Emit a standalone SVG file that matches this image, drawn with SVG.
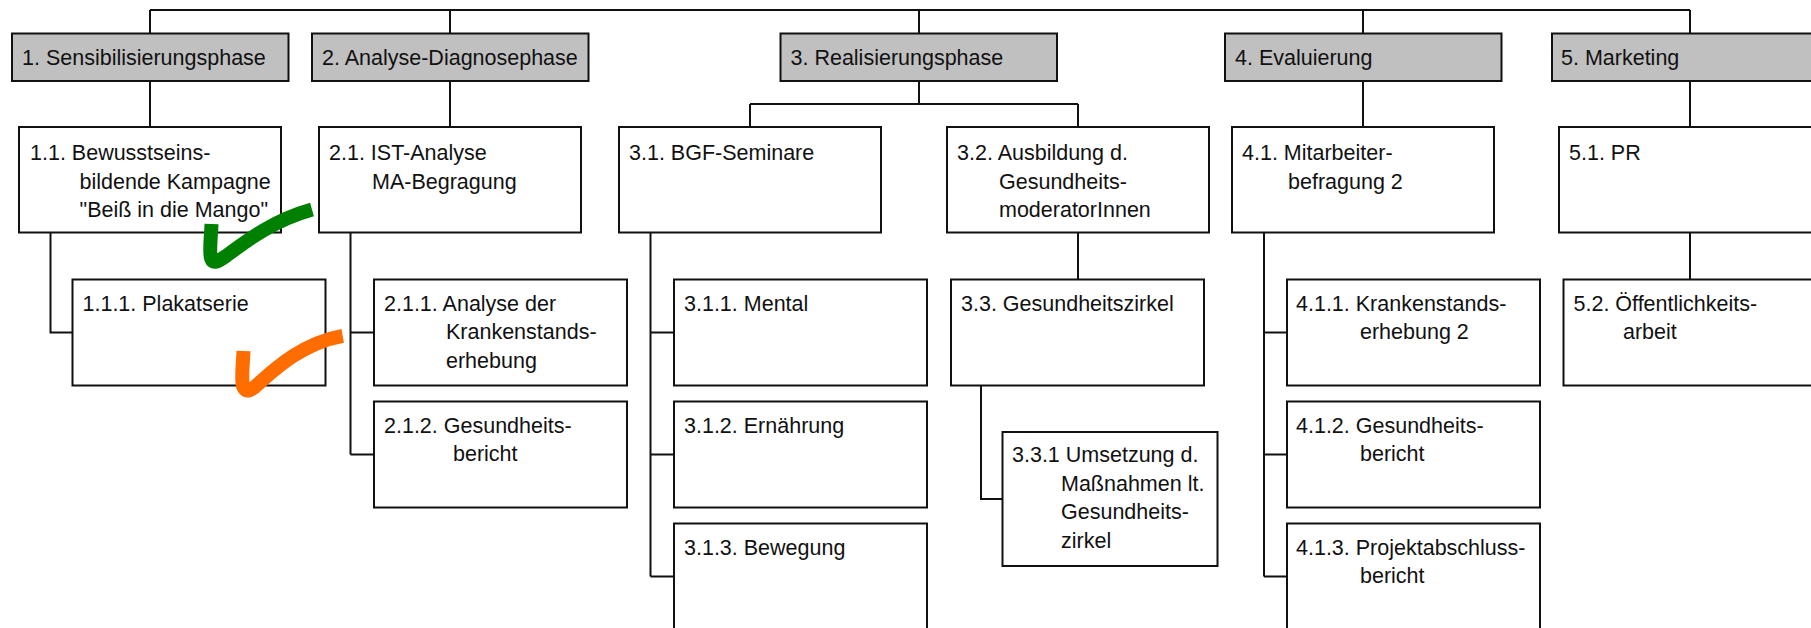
<svg xmlns="http://www.w3.org/2000/svg" width="1811" height="628" viewBox="0 0 1811 628">
<style>
  .top { fill: #c0c0c0; stroke: #111; stroke-width: 2; }
  .box { fill: #fff; stroke: #111; stroke-width: 2; }
  .conn { fill: none; stroke: #111; stroke-width: 2; }
  text { font-family: "Liberation Sans", Arial, sans-serif; font-size: 21.5px; fill: #111; }
  .check { fill: none; stroke-width: 14; stroke-linecap: butt; stroke-linejoin: round; }
</style>
<rect width="1811" height="628" fill="#fff"/>

<g id="connectors" class="conn">
  <path d="M150 10 H1690"/>
  <path d="M150 10 V34 M450 10 V34 M919 10 V34 M1363 10 V34 M1690 10 V34"/>
  <path d="M150 81 V127 M450 81 V127 M1363 81 V127 M1690 81 V127"/>
  <path d="M919 81 V104 M750 104 H1078 M750 104 V127 M1078 104 V127"/>
  <path d="M50.5 232.5 V332.5 H72.5"/>
  <path d="M350.5 232.5 V454.5 M350.5 332.5 H374 M350.5 454.5 H374"/>
  <path d="M650.5 232.5 V576.5 M650.5 332.5 H674 M650.5 454.5 H674 M650.5 576.5 H674"/>
  <path d="M1078 232.5 V279.5"/>
  <path d="M981 385.5 V499 H1002.5"/>
  <path d="M1264 232.5 V576.5 M1264 332.5 H1287 M1264 454.5 H1287 M1264 576.5 H1287"/>
  <path d="M1690 232.5 V279.5"/>
</g>

<g id="n1"><rect class="top" x="12" y="33.5" width="276.5" height="47.5"/><text x="22" y="65">1. Sensibilisierungsphase</text></g>
<g id="n2"><rect class="top" x="312" y="33.5" width="276.5" height="47.5"/><text x="322" y="65">2. Analyse-Diagnosephase</text></g>
<g id="n3"><rect class="top" x="780.5" y="33.5" width="276.5" height="47.5"/><text x="790.5" y="65">3. Realisierungsphase</text></g>
<g id="n4"><rect class="top" x="1225" y="33.5" width="276.5" height="47.5"/><text x="1235" y="65">4. Evaluierung</text></g>
<g id="n5"><rect class="top" x="1552" y="33.5" width="276.5" height="47.5"/><text x="1561" y="65">5. Marketing</text></g>

<g id="n1_1"><rect class="box" x="19" y="127" width="262" height="105.5"/>
  <text x="30" y="160">1.1. Bewusstseins-</text><text x="79.5" y="188.5">bildende Kampagne</text><text x="79.5" y="217">"Beiß in die Mango"</text></g>
<g id="n2_1"><rect class="box" x="319" y="127" width="262" height="105.5"/>
  <text x="329" y="160">2.1. IST-Analyse</text><text x="372" y="188.5">MA-Begragung</text></g>
<g id="n3_1"><rect class="box" x="619" y="127" width="262" height="105.5"/>
  <text x="629" y="160">3.1. BGF-Seminare</text></g>
<g id="n3_2"><rect class="box" x="947" y="127" width="262" height="105.5"/>
  <text x="957" y="160">3.2. Ausbildung d.</text><text x="999" y="188.5">Gesundheits-</text><text x="999" y="217">moderatorInnen</text></g>
<g id="n4_1"><rect class="box" x="1232" y="127" width="262" height="105.5"/>
  <text x="1242" y="160">4.1. Mitarbeiter-</text><text x="1288" y="188.5">befragung 2</text></g>
<g id="n5_1"><rect class="box" x="1559" y="127" width="262" height="105.5"/>
  <text x="1569" y="160">5.1. PR</text></g>

<g id="n1_1_1"><rect class="box" x="72.5" y="279.5" width="253" height="106"/>
  <text x="82.5" y="310.5">1.1.1. Plakatserie</text></g>
<g id="n2_1_1"><rect class="box" x="374" y="279.5" width="253" height="106"/>
  <text x="384" y="310.5">2.1.1. Analyse der</text><text x="446" y="339">Krankenstands-</text><text x="446" y="367.5">erhebung</text></g>
<g id="n2_1_2"><rect class="box" x="374" y="401.5" width="253" height="106"/>
  <text x="384" y="432.5">2.1.2. Gesundheits-</text><text x="453" y="461">bericht</text></g>
<g id="n3_1_1"><rect class="box" x="674" y="279.5" width="253" height="106"/>
  <text x="684" y="310.5">3.1.1. Mental</text></g>
<g id="n3_1_2"><rect class="box" x="674" y="401.5" width="253" height="106"/>
  <text x="684" y="432.5">3.1.2. Ernährung</text></g>
<g id="n3_1_3"><rect class="box" x="674" y="523.5" width="253" height="106"/>
  <text x="684" y="554.5">3.1.3. Bewegung</text></g>
<g id="n3_3"><rect class="box" x="951" y="279.5" width="253" height="106"/>
  <text x="961" y="310.5">3.3. Gesundheitszirkel</text></g>
<g id="n3_3_1"><rect class="box" x="1002.5" y="432" width="215" height="134"/>
  <text x="1012" y="462">3.3.1 Umsetzung d.</text><text x="1061" y="490.5">Maßnahmen lt.</text><text x="1061" y="519">Gesundheits-</text><text x="1061" y="547.5">zirkel</text></g>
<g id="n4_1_1"><rect class="box" x="1287" y="279.5" width="253" height="106"/>
  <text x="1296" y="310.5">4.1.1. Krankenstands-</text><text x="1360" y="339">erhebung 2</text></g>
<g id="n4_1_2"><rect class="box" x="1287" y="401.5" width="253" height="106"/>
  <text x="1296" y="432.5">4.1.2. Gesundheits-</text><text x="1360" y="461">bericht</text></g>
<g id="n4_1_3"><rect class="box" x="1287" y="523.5" width="253" height="106"/>
  <text x="1296" y="554.5">4.1.3. Projektabschluss-</text><text x="1360" y="583">bericht</text></g>
<g id="n5_2"><rect class="box" x="1563.5" y="279.5" width="253" height="106"/>
  <text x="1573.5" y="310.5">5.2. Öffentlichkeits-</text><text x="1623" y="339">arbeit</text></g>

<g id="checkmarks">
  <path class="check" stroke="#008000" d="M211.5 224 C211 238 209 252 211 258 C213 265 219 261 226 256 C250 238 275 220 312 209.5"/>
  <path class="check" stroke="#ff6c00" d="M243.5 351 C243 365 241 378 243 386 C246 394 252 390 258 384 C276 368 303 343 342.7 335.8"/>
</g>
</svg>
